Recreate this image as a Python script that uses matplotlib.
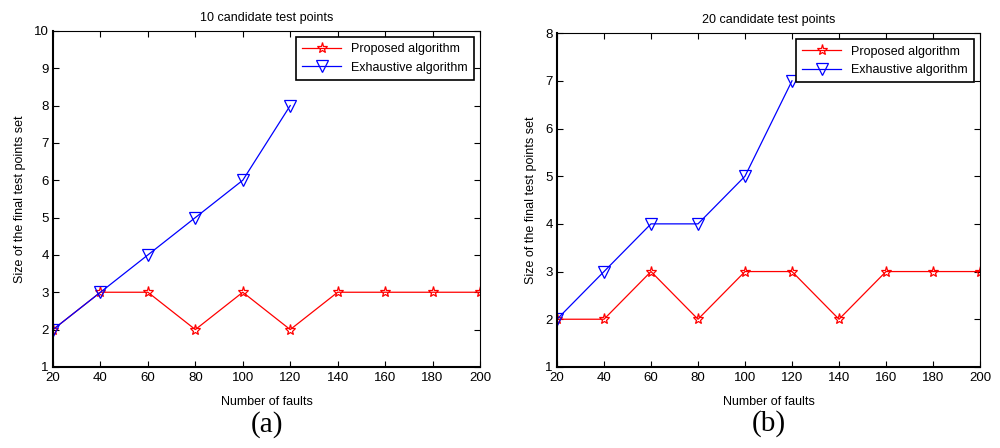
import matplotlib.pyplot as plt

plt.rcParams['font.family'] = ['Liberation Sans', 'DejaVu Sans']

faults = [20, 40, 60, 80, 100, 120, 140, 160, 180, 200]
faults_exh = [20, 40, 60, 80, 100, 120]

# (a) 10 candidate test points
proposed_a = [2, 3, 3, 2, 3, 2, 3, 3, 3, 3]
exhaustive_a = [2, 3, 4, 5, 6, 8]

# (b) 20 candidate test points
proposed_b = [2, 2, 3, 2, 3, 3, 2, 3, 3, 3]
exhaustive_b = [2, 3, 4, 4, 5, 7]

titles = ["10 candidate test points", "20 candidate test points"]
ylims = [(1, 10), (1, 8)]
tags = ["(a)", "(b)"]

fig = plt.figure(figsize=(10, 4.48), dpi=100)
ax_a = fig.add_axes([0.053, 0.181, 0.427, 0.750])
ax_b = fig.add_axes([0.557, 0.181, 0.423, 0.745])

data = [(ax_a, proposed_a, exhaustive_a), (ax_b, proposed_b, exhaustive_b)]

for i, (ax, prop, exh) in enumerate(data):
    ax.plot(faults, prop, color='red', lw=0.9, marker='*', ms=8,
            mfc='none', mec='red', mew=0.9, label="Proposed algorithm")
    ax.plot(faults_exh, exh, color='blue', lw=0.9, marker='v', ms=8,
            mfc='none', mec='blue', mew=0.9, label="Exhaustive algorithm")
    ax.set_xlim(20, 200)
    ax.set_ylim(*ylims[i])
    ax.set_xticks(faults)
    ax.set_yticks(range(ylims[i][0], ylims[i][1] + 1))
    ax.tick_params(direction='in', top=True, right=True, labelsize=9.5,
                   length=4, width=0.8)
    ax.tick_params(axis='x', pad=4)
    ax.tick_params(axis='y', pad=3)
    for s in ['top', 'right']:
        ax.spines[s].set_linewidth(0.8)
    for s in ['bottom', 'left']:
        ax.spines[s].set_linewidth(1.5)
    ax.set_title(titles[i], fontsize=9, pad=7)
    ax.set_xlabel("Number of faults", fontsize=9, labelpad=8)
    ax.set_ylabel("Size of the final test points set", fontsize=9, labelpad=6)
    leg = ax.legend(loc='upper right', fontsize=9, fancybox=False,
                    framealpha=1, edgecolor='black', borderaxespad=0.5,
                    handlelength=3.1, labelspacing=0.5, borderpad=0.5)
    leg.get_frame().set_linewidth(1.2)
    ax.text(0.5, -0.17, tags[i], transform=ax.transAxes, ha='center',
            va='center', fontsize=21, family=['Liberation Serif', 'DejaVu Serif'])

fig.savefig("out.png", dpi=100)
